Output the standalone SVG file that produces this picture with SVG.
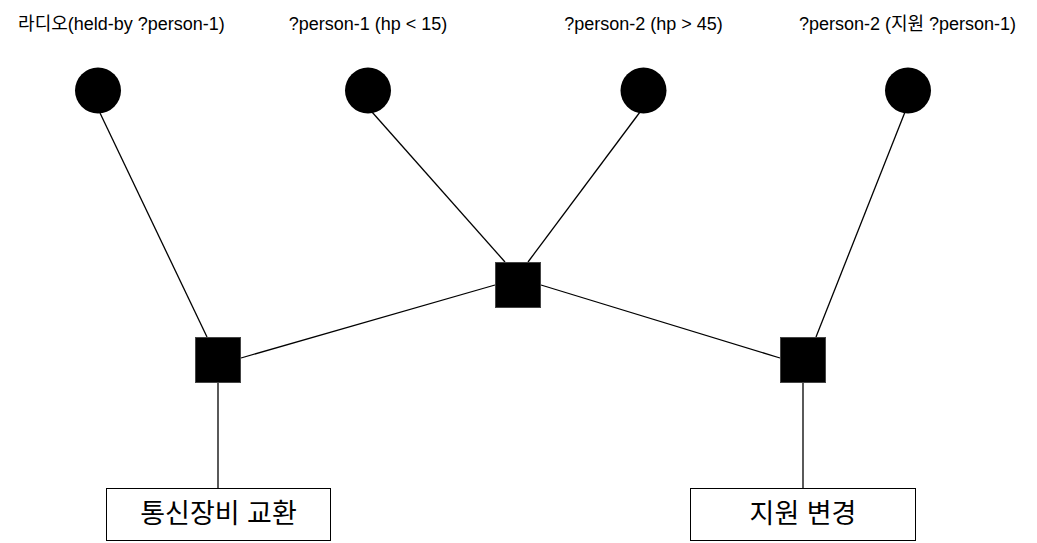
<svg xmlns="http://www.w3.org/2000/svg" width="1037" height="543" viewBox="0 0 1037 543">
<style>
.lbl{font-family:"Liberation Sans","Noto Sans CJK KR",sans-serif;font-size:18px;fill:#000;text-anchor:middle}
.big{font-family:"Liberation Sans","Noto Sans CJK KR",sans-serif;font-size:27px;fill:#000;text-anchor:middle}
.c{fill:#000}
.sq{fill:#000;stroke:#444;stroke-width:1}
.box{fill:#fff;stroke:#000;stroke-width:1}
.e{stroke:#000;stroke-width:1.3;fill:none}
</style>
<rect width="1037" height="543" fill="#fff"/>
<g id="connectors">
<line class="e" x1="100" y1="113" x2="207" y2="337"/>
<line class="e" x1="372" y1="112" x2="505" y2="262"/>
<line class="e" x1="640" y1="112" x2="528" y2="262"/>
<line class="e" x1="905" y1="112" x2="816" y2="337"/>
<line class="e" x1="495" y1="285" x2="241" y2="358"/>
<line class="e" x1="541" y1="285" x2="780" y2="358"/>
<line class="e" x1="218" y1="383" x2="218" y2="488"/>
<line class="e" x1="803" y1="383" x2="803" y2="488"/>
</g>
<g id="n1"><circle class="c" cx="98" cy="90.5" r="23"/><text class="lbl" x="121.5" y="30">라디오(held-by ?person-1)</text></g>
<g id="n2"><circle class="c" cx="368" cy="90.5" r="23"/><text class="lbl" x="368" y="30">?person-1 (hp &lt; 15)</text></g>
<g id="n3"><circle class="c" cx="643.5" cy="90.5" r="23"/><text class="lbl" x="643.5" y="30">?person-2 (hp &gt; 45)</text></g>
<g id="n4"><circle class="c" cx="908" cy="90.5" r="23"/><text class="lbl" x="907.5" y="30">?person-2 (지원 ?person-1)</text></g>
<g id="f1"><rect class="sq" x="195.5" y="337.5" width="45" height="45"/></g>
<g id="f2"><rect class="sq" x="495.5" y="262.5" width="45" height="45"/></g>
<g id="f3"><rect class="sq" x="780.5" y="337.5" width="45" height="45"/></g>
<g id="a1"><rect class="box" x="106.5" y="488.5" width="224" height="52"/><text class="big" x="218.5" y="523">통신장비 교환</text></g>
<g id="a2"><rect class="box" x="690.5" y="488.5" width="225" height="52"/><text class="big" x="803" y="523">지원 변경</text></g>
</svg>
